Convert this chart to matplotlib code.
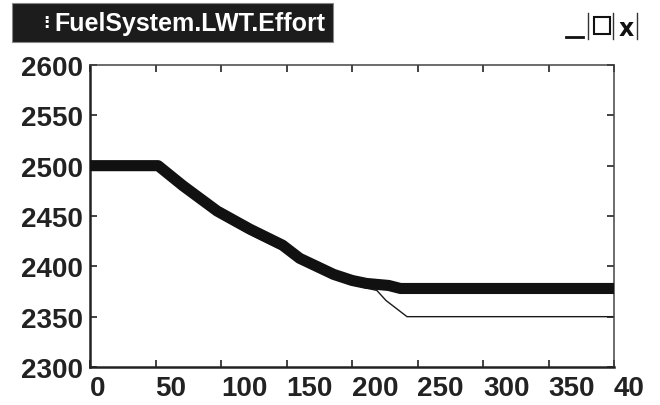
"""
FuelSystem.LWT.Effort trend window
"""

import matplotlib.pyplot as plt
from matplotlib.patches import Rectangle
from matplotlib.lines import Line2D

plt.rcParams['font.family'] = ['Liberation Sans', 'DejaVu Sans']

title = 'FuelSystem.LWT.Effort'

# commanded effort (thick trace)
t_cmd = [0, 52, 71, 97, 122, 147, 160, 173, 186, 200, 211, 228, 237, 400]
effort_cmd = [2500, 2500, 2480, 2455, 2437, 2421, 2408, 2400, 2392, 2386, 2383, 2381, 2378, 2378]

# actual effort (thin trace)
t_act = [0, 52, 71, 97, 122, 147, 173, 200, 219, 226, 234, 242, 400]
effort_act = [2500, 2500, 2476, 2450, 2432, 2416, 2396, 2382, 2376, 2366, 2358, 2350, 2350]

xticks = [0, 50, 100, 150, 200, 250, 300, 350, 400]
xlabels = ['0', '50', '100', '150', '200', '250', '300', '350', '40']
yticks = [2300, 2350, 2400, 2450, 2500, 2550, 2600]

W, H = 660, 406
fig = plt.figure(figsize=(W / 100, H / 100), dpi=100)
ax = fig.add_axes([90 / W, 1 - 368 / H, 524 / W, 302 / H])

ax.plot(t_act, effort_act, color='#1a1a1a', linewidth=1.0, zorder=2)
ax.plot(t_cmd, effort_cmd, color='#111111', linewidth=8, solid_capstyle='butt', zorder=3)

ax.set_xlim(0, 400)
ax.set_ylim(2300, 2600)
ax.set_xticks(xticks)
ax.set_xticklabels(xlabels, ha='left')
ax.set_yticks(yticks)
ax.tick_params(direction='in', length=5, width=1.2, top=True, right=True,
               labelsize=20, colors='#222222', pad=5)
ax.tick_params(axis='x', pad=6)
for lab in ax.get_xticklabels() + ax.get_yticklabels():
    lab.set_fontweight('bold')
for side in ['left', 'bottom']:
    ax.spines[side].set_linewidth(1.8)
    ax.spines[side].set_color('#222222')
for side in ['top', 'right']:
    ax.spines[side].set_linewidth(1.1)
    ax.spines[side].set_color('#444444')

# title bar
fig.patches.append(Rectangle((12 / W, 1 - 43 / H), 321 / W, 39 / H,
                             transform=fig.transFigure, facecolor='#1c1c1c',
                             edgecolor='#888888', linewidth=0.8))
fig.text(43 / W, 1 - 23 / H, '⁝', color='white', fontsize=12, fontweight='bold',
         ha='left', va='center', family=['DejaVu Sans'])
fig.text(54 / W, 1 - 24 / H, title, color='white', fontsize=18, fontweight='bold',
         ha='left', va='center')

# window buttons
fig.text(626 / W, 1 - 29 / H, 'x', color='#111111', fontsize=17, fontweight='bold',
         ha='center', va='center', family=['DejaVu Sans'])
fig.patches.append(Rectangle((594 / W, 1 - 35 / H), 16 / W, 17 / H,
                             transform=fig.transFigure, facecolor='none',
                             edgecolor='#111111', linewidth=1.5))
for xs in [588, 613, 637]:
    fig.lines.append(Line2D([xs / W, xs / W], [1 - 40 / H, 1 - 14 / H],
                            transform=fig.transFigure, color='#333333', linewidth=1.0))
fig.lines.append(Line2D([566 / W, 583 / W], [1 - 38 / H, 1 - 38 / H],
                        transform=fig.transFigure, color='#111111', linewidth=2.0))

fig.savefig('out.png', dpi=100)
